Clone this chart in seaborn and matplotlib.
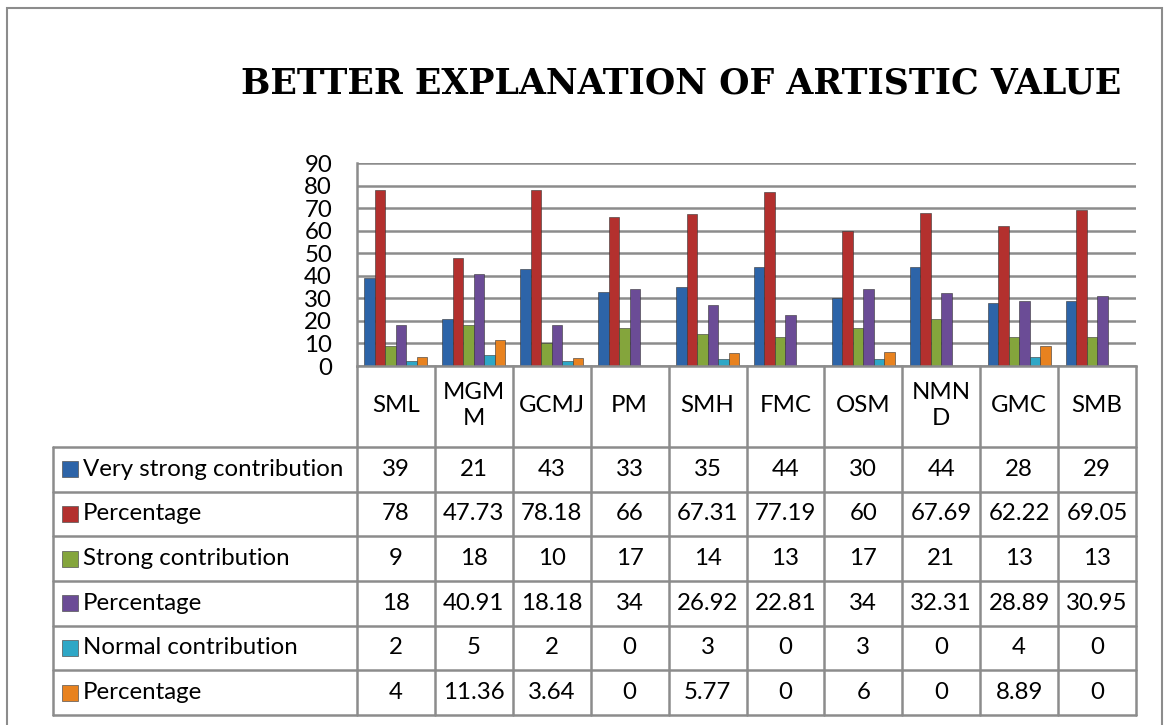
import matplotlib
matplotlib.use("Agg")
import matplotlib.pyplot as plt
import seaborn as sns
import pandas as pd
from matplotlib.patches import Rectangle
from matplotlib.lines import Line2D

# ---------------- data ----------------
categories = ["SML", "MGMM", "GCMJ", "PM", "SMH", "FMC", "OSM", "NMND", "GMC", "SMB"]
header_labels = ["SML", "MGM\nM", "GCMJ", "PM", "SMH", "FMC", "OSM", "NMN\nD", "GMC", "SMB"]
series_names = ["Very strong contribution", "Percentage", "Strong contribution",
                "Percentage", "Normal contribution", "Percentage"]
very_strong = [39, 21, 43, 33, 35, 44, 30, 44, 28, 29]
very_strong_pct = [78, 47.73, 78.18, 66, 67.31, 77.19, 60, 67.69, 62.22, 69.05]
strong = [9, 18, 10, 17, 14, 13, 17, 21, 13, 13]
strong_pct = [18, 40.91, 18.18, 34, 26.92, 22.81, 34, 32.31, 28.89, 30.95]
normal = [2, 5, 2, 0, 3, 0, 3, 0, 4, 0]
normal_pct = [4, 11.36, 3.64, 0, 5.77, 0, 6, 0, 8.89, 0]
series_values = [very_strong, very_strong_pct, strong, strong_pct, normal, normal_pct]
colors = ["#2D64A8", "#B3302E", "#84A53C", "#6B4C96", "#2EA7C6", "#E8821F"]
title = "BETTER EXPLANATION OF ARTISTIC VALUE"

# ---------------- figure ----------------
W, H = 1164, 725
sns.set_theme(style="white")
plt.rcParams['font.family'] = ['Lato', 'DejaVu Sans']
plt.rcParams['text.color'] = 'black'
fig = plt.figure(figsize=(W / 100, H / 100), dpi=100)

def fx(x):
    return x / W

def fy(y):
    return 1 - y / H

FS = 17.3
ax_left, ax_right, ax_top, ax_bot = 357, 1136, 163, 366
ax = fig.add_axes([fx(ax_left), fy(ax_bot), (ax_right - ax_left) / W, (ax_bot - ax_top) / H])

keys = [f"s{i}" for i in range(len(series_names))]
rows = []
for k, vals in zip(keys, series_values):
    for c, v in zip(categories, vals):
        rows.append({"category": c, "series": k, "value": v})
df = pd.DataFrame(rows)

sns.barplot(data=df, x="category", y="value", hue="series", order=categories,
            hue_order=keys, palette=dict(zip(keys, colors)), width=0.81,
            saturation=1, ax=ax, legend=False, edgecolor="#333333", linewidth=0.4)

ax.set_ylim(0, 90)
ax.set_xlim(-0.5, len(categories) - 0.5)
ax.set_yticks(range(0, 91, 10))
ax.yaxis.grid(True, color="#8c8c8c", linewidth=1.8)
ax.set_axisbelow(True)
ax.set_xticks([])
ax.set_xlabel("")
ax.set_ylabel("")
for s in ["top", "right"]:
    ax.spines[s].set_visible(False)
for s in ["left", "bottom"]:
    ax.spines[s].set_color("#8c8c8c")
    ax.spines[s].set_linewidth(1.8)
ax.tick_params(axis="y", labelsize=FS, length=0, pad=18, colors="black")

# ---------------- data table ----------------
line_kw = dict(color="#8c8c8c", linewidth=1.8, transform=fig.transFigure)
tab_left = 53
row_top = 447
row_h = (715 - 447) / 6
col_w = (ax_right - ax_left) / len(categories)

for i in range(len(categories) + 1):
    x = ax_left + i * col_w
    fig.add_artist(Line2D([fx(x), fx(x)], [fy(ax_bot), fy(715)], **line_kw))
fig.add_artist(Line2D([fx(tab_left), fx(tab_left)], [fy(row_top), fy(715)], **line_kw))
for r in range(7):
    y = row_top + r * row_h
    fig.add_artist(Line2D([fx(tab_left), fx(ax_right)], [fy(y), fy(y)], **line_kw))

for i, lab in enumerate(header_labels):
    cx = ax_left + (i + 0.5) * col_w
    fig.text(fx(cx), fy((ax_bot + row_top) / 2 - 1), lab, ha="center", va="center",
             fontsize=FS, linespacing=1.25)

for r, (name, vals, col) in enumerate(zip(series_names, series_values, colors)):
    cy = row_top + (r + 0.5) * row_h
    fig.add_artist(Rectangle((fx(62), fy(cy + 8)), 16 / W, 16 / H, facecolor=col,
                             edgecolor="#555555", linewidth=0.5, transform=fig.transFigure))
    fig.text(fx(83), fy(cy), name, ha="left", va="center", fontsize=FS)
    for i, v in enumerate(vals):
        cx = ax_left + (i + 0.5) * col_w
        fig.text(fx(cx), fy(cy), f"{v:g}", ha="center", va="center", fontsize=FS)

fig.text(fx(681), fy(83), title, ha="center", va="center", fontsize=25,
         fontweight="heavy", family="DejaVu Serif", color="black")

fig.add_artist(Rectangle((fx(7), fy(735)), (1162 - 7) / W, (735 - 8) / H, fill=False,
                         edgecolor="#8c8c8c", linewidth=1.5, transform=fig.transFigure))

fig.savefig("out.png", dpi=100)
